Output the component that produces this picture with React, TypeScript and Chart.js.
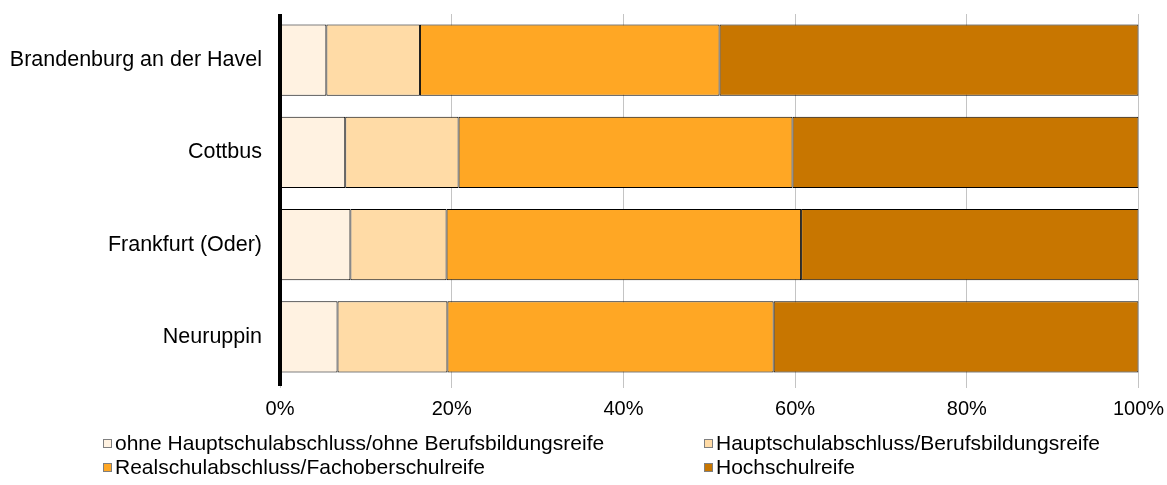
import React, { useEffect, useRef } from "react";
import { Chart, registerables } from "chart.js";

Chart.register(...registerables);

const categories = ["Brandenburg an der Havel", "Cottbus", "Frankfurt (Oder)", "Neuruppin"];
const seriesNames = [
  "ohne Hauptschulabschluss/ohne Berufsbildungsreife",
  "Hauptschulabschluss/Berufsbildungsreife",
  "Realschulabschluss/Fachoberschulreife",
  "Hochschulreife",
];
const ohneAbschluss = [5.4, 7.6, 8.2, 6.7];
const hauptschule = [10.9, 13.2, 11.2, 12.8];
const realschule = [34.9, 38.9, 41.3, 38.0];
const hochschulreife = [48.8, 40.3, 39.3, 42.5];
const seriesColors = ["#FFF2E1", "#FFDBA6", "#FFA724", "#C87600"];
const xTickStep = 20;
const xMin = 0;
const xMax = 100;

const FONT = "'Liberation Sans', Arial, sans-serif";

const axisLinePlugin = {
  id: "axisLine",
  afterDatasetsDraw(chart: any) {
    const { ctx, chartArea, scales } = chart;
    const x = scales.x.getPixelForValue(xMin);
    ctx.save();
    ctx.strokeStyle = "#000";
    ctx.lineWidth = 4;
    ctx.beginPath();
    ctx.moveTo(x, chartArea.top);
    ctx.lineTo(x, chartArea.bottom + 3);
    ctx.stroke();
    ctx.restore();
  },
};

export default function App() {
  const canvasRef = useRef<HTMLCanvasElement | null>(null);

  useEffect(() => {
    document.body.style.margin = "0";
    const canvas = canvasRef.current;
    if (!canvas) return;
    const values = [ohneAbschluss, hauptschule, realschule, hochschulreife];
    const chart = new Chart(canvas, {
      type: "bar",
      data: {
        labels: categories,
        datasets: seriesNames.map((name, i) => ({
          label: name,
          data: values[i],
          backgroundColor: seriesColors[i],
          borderColor: "#000",
          borderWidth: 1,
          borderSkipped: false,
          categoryPercentage: 1,
          barPercentage: 0.77,
        })),
      },
      options: {
        indexAxis: "y",
        responsive: false,
        animation: false,
        layout: { padding: { top: 14, right: 28.5, bottom: 52, left: 0 } },
        plugins: { legend: { display: false }, tooltip: { enabled: false } },
        scales: {
          x: {
            type: "linear",
            stacked: true,
            min: xMin,
            max: xMax,
            ticks: {
              stepSize: xTickStep,
              callback: (v: any) => v + "%",
              font: { family: FONT, size: 20 },
              color: "#000",
              padding: 9,
              maxRotation: 0,
            },
            grid: {
              color: "#C4C4C4",
              lineWidth: 1,
              tickLength: 5,
            },
            border: { display: false },
            afterFit: (scale: any) => {
              scale.height = 50;
              scale.paddingLeft = 0;
              scale.paddingRight = 0;
            },
          },
          y: {
            type: "category",
            stacked: true,
            ticks: {
              font: { family: FONT, size: 21.5 },
              color: "#000",
              padding: 10,
            },
            grid: { display: false },
            border: { display: false },
            afterFit: (scale: any) => {
              scale.width = 280;
              scale.paddingTop = 0;
              scale.paddingBottom = 0;
            },
          },
        },
      },
      plugins: [axisLinePlugin],
    });
    return () => chart.destroy();
  }, []);

  const legendPos = [
    { left: 103, top: 431 },
    { left: 704, top: 431 },
    { left: 103, top: 455 },
    { left: 704, top: 455 },
  ];

  return (
    <div style={{ position: "relative", width: 1167, height: 485, background: "#fff" }}>
      <canvas ref={canvasRef} width={1167} height={485} style={{ display: "block" }} />
      {seriesNames.map((name, i) => (
        <div
          key={name}
          style={{
            position: "absolute",
            left: legendPos[i].left,
            top: legendPos[i].top,
            display: "flex",
            alignItems: "center",
            height: 24,
            fontFamily: FONT,
            fontSize: 21,
            lineHeight: "24px",
            color: "#000",
            whiteSpace: "nowrap",
          }}
        >
          <span
            style={{
              display: "inline-block",
              width: 9,
              height: 9,
              boxSizing: "border-box",
              border: "1px solid #7f7f7f",
              background: seriesColors[i],
              marginRight: 3,
            }}
          />
          <span>{name}</span>
        </div>
      ))}
    </div>
  );
}
